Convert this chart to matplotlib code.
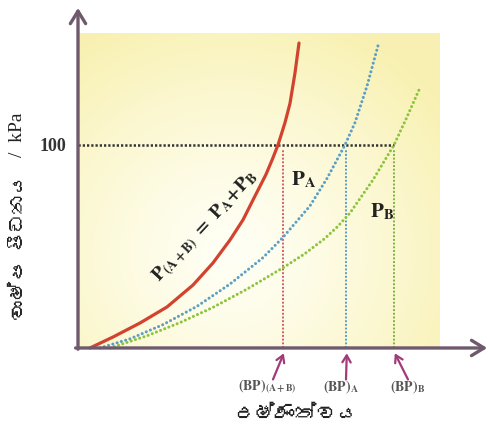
import numpy as np
import matplotlib
matplotlib.use("Agg")
import matplotlib.pyplot as plt
from matplotlib import font_manager as fm
from matplotlib.ft2font import FT2Font

# ---- data -------------------------------------------------------------
# temperature (arbitrary units) and vapour pressure (kPa)
t_total = [3.0, 8.75, 15.5, 22.25, 28.75, 33.75, 38.0, 41.25, 43.75, 47.0, 48.5,
           50.0, 51.75, 53.0, 54.25, 55.25]
p_total = [0.0, 5.4, 12.3, 20.2, 31.0, 41.9, 53.2, 63.1, 72.9, 85.5, 92.5,
           100.0, 111.0, 120.5, 135.5, 150.2]

t_a = [5.5, 13.0, 21.25, 29.75, 38.0, 46.25, 51.25, 58.0, 62.25, 66.75, 69.25,
       72.25, 75.25]
p_a = [0.0, 4.5, 11.5, 20.5, 31.5, 44.5, 54.5, 70.0, 83.5, 100.0, 111.0,
       129.0, 150.7]

t_b = [8.0, 17.25, 25.5, 33.75, 42.25, 51.25, 56.75, 61.75, 65.0, 68.0, 73.75,
       79.0, 82.25, 85.25]
p_b = [0.0, 6.0, 12.5, 20.0, 29.0, 39.5, 46.5, 54.0, 60.0, 66.5, 82.8,
       100.0, 113.8, 127.1]

p_atm = 100.0
bp_values = [51.25, 67.0, 79.0]
bp_labels = [r"$\mathbf{(BP)}_{\mathbf{(A+B)}}$", r"$\mathbf{(BP)}_{\mathbf{A}}$",
             r"$\mathbf{(BP)}_{\mathbf{B}}$"]
bp_colors = ["#d4606e", "#5b9fc4", "#7cb544"]

y_label_si = "වාෂ්ප පීඩනය"
y_label_unit = "/  kPa"
x_label = "උෂ්ණත්වය"


def family_for(ch):
    for f in fm.fontManager.ttflist:
        try:
            if ord(ch) in FT2Font(f.fname).get_charmap():
                return f.name
        except Exception:
            pass
    return None


sinhala = family_for("ව")
sin_fams = ([sinhala] if sinhala else []) + ["Liberation Serif", "DejaVu Sans"]

plt.rcParams["mathtext.fontset"] = "stix"

fig = plt.figure(figsize=(4.88, 4.30), dpi=100)
ax = fig.add_axes([0, 0, 1, 1])
ax.set_xlim(-19.5, 102.5)
ax.set_ylim(-40.4, 171.4)
ax.axis("off")

# soft yellow backdrop of the plotting area
nx, ny = 360, 320
u = np.linspace(0, 1, nx)[None, :]
v = np.linspace(0, 1, ny)[:, None]
d = np.sqrt(((u - 0.42) / 1.0) ** 2 + ((v - 0.30) / 1.1) ** 2)
t = np.clip(d / 0.72, 0, 1) ** 1.3
white = np.array([1.0, 1.0, 0.96])
yellow = np.array([0.975, 0.945, 0.70])
img = white[None, None, :] * (1 - t[..., None]) + yellow[None, None, :] * t[..., None]
ax.imshow(img, extent=[0, 90.5, 0, 155], origin="lower", aspect="auto", zorder=0,
          interpolation="bilinear")

# curves
ax.plot(t_total, p_total, color="#d2432f", lw=2.3, solid_capstyle="round",
        solid_joinstyle="round", zorder=3)
ax.plot(t_a, p_a, color="#5b9fc4", lw=2.2, linestyle=(0, (0.01, 1.45)),
        dash_capstyle="round", zorder=3)
ax.plot(t_b, p_b, color="#8cc43e", lw=2.2, linestyle=(0, (0.01, 1.45)),
        dash_capstyle="round", zorder=3)

# 100 kPa guide and boiling point drops
ax.plot([0, max(bp_values)], [p_atm, p_atm], color="#333333", lw=1.8,
        linestyle=(0, (0.9, 0.8)), zorder=2)
for bp, c in zip(bp_values, bp_colors):
    ax.plot([bp, bp], [0, p_atm - 2], color=c, lw=1.4, linestyle=(0, (1.0, 0.9)), zorder=2)

# axes with arrow heads
axis_col = "#6f5a6d"
ax.annotate("", xy=(102.3, 0), xytext=(-0.6, 0),
            arrowprops=dict(arrowstyle="->,head_length=0.9,head_width=0.55",
                            lw=2.4, color=axis_col, shrinkA=0, shrinkB=0), zorder=4)
ax.annotate("", xy=(0, 167.5), xytext=(0, -0.6),
            arrowprops=dict(arrowstyle="->,head_length=0.9,head_width=0.55",
                            lw=2.4, color=axis_col, shrinkA=0, shrinkB=0), zorder=4)

ax.text(-6.3, p_atm - 1, "100", ha="center", va="center", fontsize=13,
        fontweight="bold", family="Liberation Serif", color="#333333")

# boiling point markers below the axis
tails = [-2.5, 0.0, 3.5]
lab_dx = [-4.0, -1.25, 3.3]
for bp, dx, lx, lab in zip(bp_values, tails, lab_dx, bp_labels):
    ax.annotate("", xy=(bp + 0.2, -2.6), xytext=(bp + dx, -15.5),
                arrowprops=dict(arrowstyle="->,head_length=0.5,head_width=0.3",
                                lw=1.6, color="#a03a78", shrinkA=0, shrinkB=0))
    ax.text(bp + lx, -19.2, lab, ha="center", va="center", fontsize=10,
            color="#555555")

# curve labels
ax.text(32.0, 60.0, r"$\mathbf{P}_{\mathbf{(A+B)}}\mathbf{\ =\ P}_{\mathbf{A}}\mathbf{+P}_{\mathbf{B}}$",
        rotation=47, ha="center", va="center", fontsize=14, color="#222222")
ax.text(56.5, 83, r"$\mathbf{P}_{\mathbf{A}}$", ha="center", va="center", fontsize=15,
        color="#222222")
ax.text(76.0, 67, r"$\mathbf{P}_{\mathbf{B}}$", ha="center", va="center", fontsize=15,
        color="#222222")

# axis titles
ax.text(54.5, -32.5, x_label, ha="center", va="center", fontsize=15,
        family=sin_fams, color="#222222")
ax.text(-15.0, 50.0, y_label_si, ha="center", va="center", rotation=90, fontsize=14,
        family=sin_fams, color="#222222")
ax.text(-15.0, 105.0, y_label_unit, ha="center", va="center", rotation=90, fontsize=14,
        family="Liberation Serif", color="#222222")

fig.savefig("out.png", dpi=100)
